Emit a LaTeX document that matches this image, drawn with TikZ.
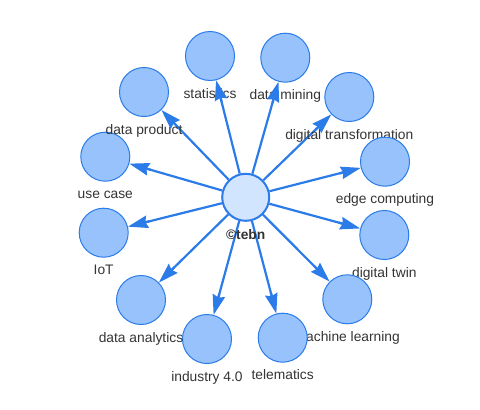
\documentclass[tikz,border=0pt]{standalone}
\usepackage{fontspec}
\setmainfont{Liberation Sans}
\usetikzlibrary{arrows.meta,calc,backgrounds}
\definecolor{visblue}{HTML}{2B7CE9}
\definecolor{visfill}{HTML}{97C2FC}
\definecolor{vishl}{HTML}{D2E5FF}
\definecolor{vistext}{HTML}{343434}
\begin{document}
\begin{tikzpicture}[x=1pt,y=-1pt,
  outer/.style={circle,draw=visblue,fill=visfill,line width=1pt,minimum size=49pt,inner sep=0pt},
  hub/.style={circle,draw=visblue,fill=vishl,line width=2pt,minimum size=47pt,inner sep=0pt},
  lbl/.style={text=vistext,font=\fontsize{13.8}{16}\selectfont,inner sep=0pt,text height=10pt,text depth=3pt},
  edgeline/.style={draw=visblue,line width=2.2pt,shorten >=10pt},
  headpart/.style={draw=visblue,line width=2.2pt,-{Stealth[length=20pt,width=12.5pt,inset=2pt]}}]
\useasboundingbox (0,0) rectangle (480,410);
% hub
\node[hub] (c) at (245.7,197.3) {};
\node[lbl,font=\fontsize{13.8}{16}\selectfont\bfseries] (cl) at ([yshift=-38.5pt]c.center) {©tebn};
% outer nodes, each with its label
\node[outer] (st) at (210,56) {};
\node[lbl] (stl) at ([yshift=-38.5pt]st.center) {statistics};
\node[outer] (dm) at (285.3,57.7) {};
\node[lbl] (dml) at ([yshift=-38.5pt]dm.center) {data mining};
\node[outer] (dt) at (349.3,97) {};
\node[lbl] (dtl) at ([yshift=-38.5pt]dt.center) {digital transformation};
\node[outer] (ec) at (385,161.7) {};
\node[lbl] (ecl) at ([yshift=-38.5pt]ec.center) {edge computing};
\node[outer] (tw) at (384.3,235) {};
\node[lbl] (twl) at ([yshift=-38.5pt]tw.center) {digital twin};
\node[outer] (ml) at (347.3,299.3) {};
\node[lbl] (mll) at ([yshift=-38.5pt]ml.center) {machine learning};
\node[outer] (te) at (282.7,337.7) {};
\node[lbl] (tel) at ([yshift=-38.5pt]te.center) {telematics};
\node[outer] (in) at (207,339) {};
\node[lbl] (inl) at ([yshift=-38.5pt]in.center) {industry 4.0};
\node[outer] (da) at (141,300) {};
\node[lbl] (dal) at ([yshift=-38.5pt]da.center) {data analytics};
\node[outer] (io) at (103.7,232.7) {};
\node[lbl] (iol) at ([yshift=-38.5pt]io.center) {IoT};
\node[outer] (uc) at (105.3,156.7) {};
\node[lbl] (ucl) at ([yshift=-38.5pt]uc.center) {use case};
\node[outer] (dp) at (144,92) {};
\node[lbl] (dpl) at ([yshift=-38.5pt]dp.center) {data product};
% edges below nodes
\begin{scope}[on background layer]
  \fill[white] (0,0) rectangle (480,410);
  \foreach \n in {st,dm,dt,ec,tw,ml,te,in,da,io,uc,dp}
    \draw[edgeline] (c) -- (\n);
\end{scope}
% arrowheads above labels
\foreach \n in {st,dm,dt,ec,tw,ml,te,in,da,io,uc,dp}
  \draw[headpart] ($(\n)!47pt!(c)$) -- (\n);
\end{tikzpicture}
\end{document}
